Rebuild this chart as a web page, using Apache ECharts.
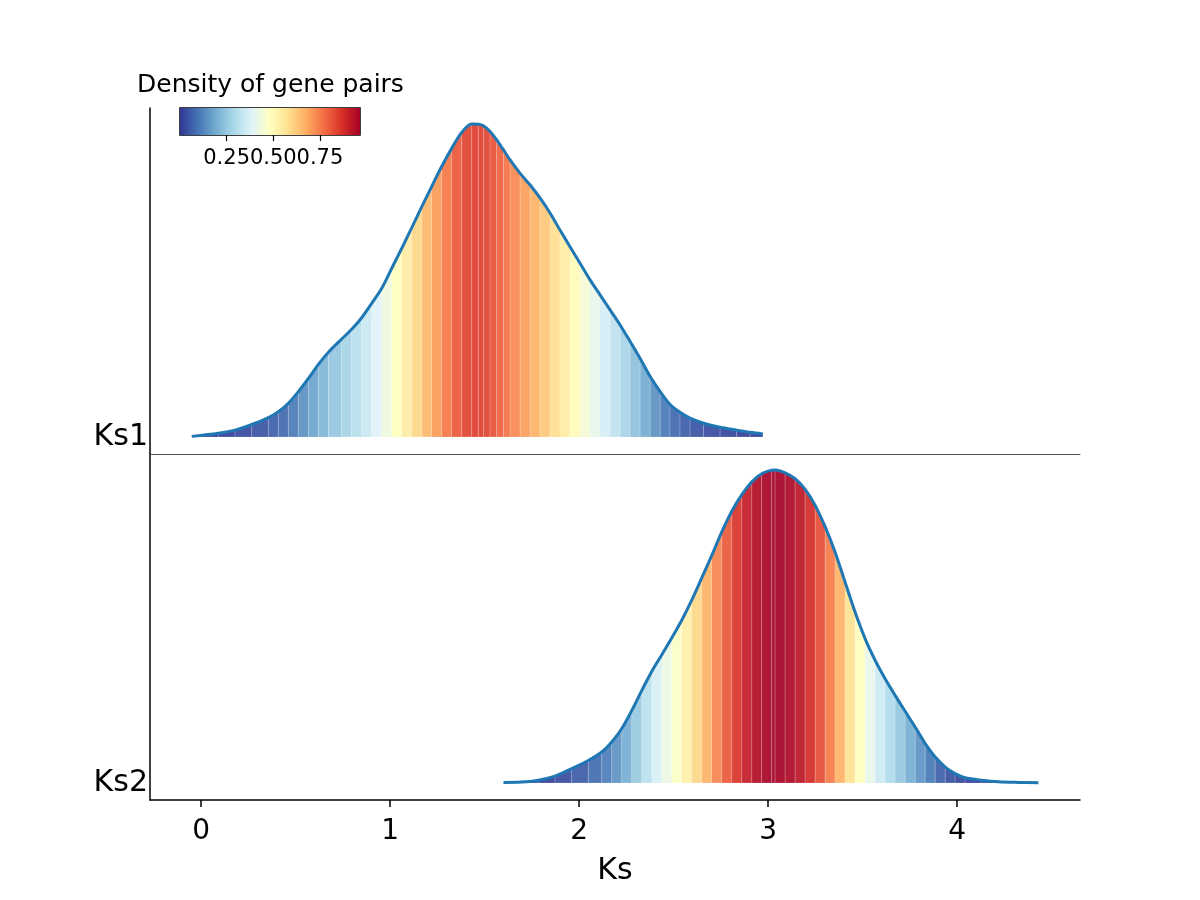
<!DOCTYPE html>
<html>
<head>
<meta charset="utf-8">
<script src="https://cdn.jsdelivr.net/npm/echarts@6/dist/echarts.min.js"></script>
<style>
  html, body { margin: 0; padding: 0; background: #fff; }
  #main { width: 1200px; height: 900px; }
</style>
</head>
<body>
<div id="main"></div>
<script>
// ridge profiles (height normalised to each ridge's peak)
const ks1X = [-0.049, 0.092, 0.180, 0.268, 0.356, 0.409, 0.462, 0.515, 0.568, 0.621, 0.674, 0.744, 0.797, 0.850, 0.903, 0.956, 1.009, 1.062, 1.115, 1.168, 1.220, 1.273, 1.326, 1.379, 1.432, 1.467, 1.494, 1.529, 1.564, 1.600, 1.635, 1.688, 1.741, 1.794, 1.847, 1.899, 1.952, 2.005, 2.058, 2.111, 2.164, 2.217, 2.270, 2.323, 2.376, 2.429, 2.481, 2.534, 2.587, 2.658, 2.746, 2.834, 2.905, 2.972]
const ks1H = [0.002, 0.012, 0.022, 0.040, 0.062, 0.081, 0.108, 0.145, 0.187, 0.232, 0.271, 0.313, 0.344, 0.381, 0.427, 0.475, 0.539, 0.603, 0.669, 0.736, 0.800, 0.864, 0.922, 0.973, 1.000, 0.999, 0.994, 0.976, 0.949, 0.917, 0.885, 0.842, 0.805, 0.763, 0.715, 0.661, 0.608, 0.555, 0.502, 0.454, 0.406, 0.358, 0.305, 0.251, 0.193, 0.145, 0.104, 0.079, 0.060, 0.044, 0.031, 0.022, 0.015, 0.010]
const ks2X = [1.600, 1.697, 1.785, 1.873, 1.961, 2.049, 2.120, 2.173, 2.226, 2.279, 2.332, 2.385, 2.438, 2.490, 2.543, 2.596, 2.649, 2.702, 2.755, 2.808, 2.861, 2.914, 2.966, 3.019, 3.037, 3.090, 3.143, 3.196, 3.249, 3.302, 3.354, 3.407, 3.460, 3.513, 3.566, 3.619, 3.672, 3.725, 3.778, 3.831, 3.884, 3.937, 3.989, 4.042, 4.131, 4.219, 4.324, 4.430]
const ks2H = [0.002, 0.003, 0.009, 0.022, 0.046, 0.072, 0.099, 0.131, 0.174, 0.232, 0.296, 0.357, 0.410, 0.463, 0.520, 0.584, 0.655, 0.727, 0.802, 0.868, 0.921, 0.962, 0.988, 0.999, 1.000, 0.991, 0.972, 0.938, 0.887, 0.818, 0.738, 0.642, 0.546, 0.461, 0.392, 0.333, 0.280, 0.229, 0.179, 0.126, 0.083, 0.051, 0.030, 0.017, 0.009, 0.004, 0.002, 0.001]
// peak density of each ridge (drives the colour)
const ks1Peak = 0.85
const ks2Peak = 0.965

const ridgeNames = ['Ks1', 'Ks2']
const xTicks = [0, 1, 2, 3, 4]
const cbarTicks = [0.25, 0.5, 0.75]
const cbarMax = 0.965
const rdylbuR = ['#313695', '#4575b4', '#74add1', '#abd9e9', '#e0f3f8', '#ffffbf', '#fee090', '#fdae61', '#f46d43', '#d73027', '#a50026']

const FONT = 'DejaVu Sans'
const LINE = '#1f77b4'

function stripes(xs, hs, peak) {
  const out = []
  for (let i = 0; i < xs.length - 1; i++) {
    out.push([xs[i], xs[i + 1], hs[i], hs[i + 1], (hs[i] + hs[i + 1]) / 2 * peak])
  }
  return out
}

function renderStripe(params, api) {
  const p0 = api.coord([api.value(0), 0])
  const p1 = api.coord([api.value(0), api.value(2)])
  const p2 = api.coord([api.value(1), api.value(3)])
  const p3 = api.coord([api.value(1), 0])
  const c = api.visual('color')
  return {
    type: 'polygon',
    shape: { points: [p0, p1, p2, p3] },
    style: { fill: c, stroke: 'rgba(255,255,255,0.18)', lineWidth: 1, opacity: 0.92 },
  }
}

function renderBar(params, api) {
  const a = api.coord([0, 0])
  const b = api.coord([api.value(1), 1])
  const stops = rdylbuR.map((c, i) => ({ offset: i / (rdylbuR.length - 1), color: c }))
  return {
    type: 'rect',
    shape: { x: a[0], y: b[1], width: b[0] - a[0], height: a[1] - b[1] },
    style: { fill: new echarts.graphic.LinearGradient(0, 0, 1, 0, stops) },
  }
}

const yRange = { min: -0.0543, max: 1.051 }

function ridgeY(idx, name) {
  return {
    type: 'value',
    gridIndex: idx,
    min: yRange.min,
    max: yRange.max,
    splitLine: { show: false },
    axisTick: { show: false },
    axisLine: { show: true, onZero: false, lineStyle: { color: '#000', width: 1.5 } },
    axisLabel: {
      customValues: [0],
      formatter: () => name,
      fontFamily: FONT,
      fontSize: 30,
      color: '#000',
      margin: 2,
    },
  }
}

const chart = echarts.init(document.getElementById('main'))
chart.setOption({
  animation: false,
  backgroundColor: '#fff',
  grid: [
    { left: 150, top: 108, width: 930, height: 346 },
    { left: 150, top: 454, width: 930, height: 346 },
    { left: 180, top: 108, width: 180, height: 27, show: true, borderColor: '#000', borderWidth: 1.5, backgroundColor: 'transparent' },
  ],
  xAxis: [
    {
      type: 'value', gridIndex: 0, min: -0.27, max: 4.65,
      splitLine: { show: false },
      axisLine: { show: true, onZero: false, lineStyle: { color: '#555', width: 1 } },
      axisTick: { show: false },
      axisLabel: { show: false },
    },
    {
      type: 'value', gridIndex: 1, min: -0.27, max: 4.65,
      name: 'Ks', nameLocation: 'middle', nameGap: 56,
      nameTextStyle: { fontFamily: FONT, fontSize: 30, color: '#000' },
      splitLine: { show: false },
      axisLine: { show: true, onZero: false, lineStyle: { color: '#000', width: 1.5 } },
      axisTick: { customValues: xTicks, length: 7, lineStyle: { color: '#000', width: 1.5 } },
      axisLabel: { customValues: xTicks, fontFamily: FONT, fontSize: 28, color: '#000', margin: 18 },
    },
    {
      type: 'value', gridIndex: 2, min: 0, max: cbarMax,
      splitLine: { show: false },
      axisLine: { show: false },
      axisTick: { customValues: cbarTicks, length: 6, lineStyle: { color: '#000', width: 1.2 } },
      axisLabel: {
        customValues: cbarTicks,
        formatter: (v) => v.toFixed(2),
        fontFamily: FONT, fontSize: 21, color: '#000', margin: 13,
      },
    },
  ],
  yAxis: [
    ridgeY(0, ridgeNames[0]),
    ridgeY(1, ridgeNames[1]),
    { type: 'value', gridIndex: 2, min: 0, max: 1, show: false },
  ],
  visualMap: {
    type: 'continuous',
    show: false,
    min: 0,
    max: cbarMax,
    dimension: 4,
    seriesIndex: [0, 2],
    inRange: { color: rdylbuR },
  },
  graphic: [
    {
      type: 'text',
      left: 137,
      top: 73,
      style: { text: 'Density of gene pairs', font: '25px "DejaVu Sans"', fill: '#000' },
    },
  ],
  series: [
    {
      type: 'custom', xAxisIndex: 0, yAxisIndex: 0,
      renderItem: renderStripe,
      encode: { x: [0, 1], y: [2, 3] },
      data: stripes(ks1X, ks1H, ks1Peak),
      z: 2,
    },
    {
      type: 'line', xAxisIndex: 0, yAxisIndex: 0,
      data: ks1X.map((x, i) => [x, ks1H[i]]),
      smooth: 0.3, symbol: 'none',
      lineStyle: { color: LINE, width: 3 },
      z: 3,
    },
    {
      type: 'custom', xAxisIndex: 1, yAxisIndex: 1,
      renderItem: renderStripe,
      encode: { x: [0, 1], y: [2, 3] },
      data: stripes(ks2X, ks2H, ks2Peak),
      z: 2,
    },
    {
      type: 'line', xAxisIndex: 1, yAxisIndex: 1,
      data: ks2X.map((x, i) => [x, ks2H[i]]),
      smooth: 0.3, symbol: 'none',
      lineStyle: { color: LINE, width: 3 },
      z: 3,
    },
    {
      type: 'custom', xAxisIndex: 2, yAxisIndex: 2,
      renderItem: renderBar,
      data: [[0, cbarMax]],
      z: 1,
    },
  ],
})
</script>
</body>
</html>
